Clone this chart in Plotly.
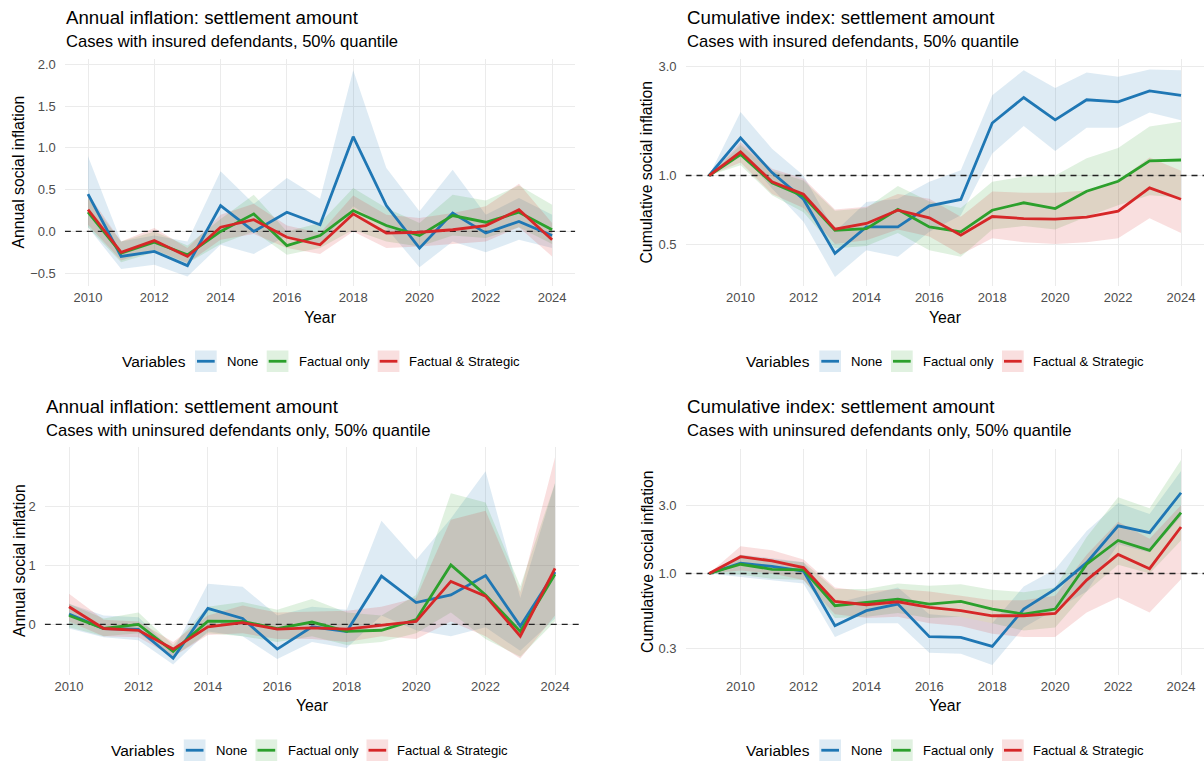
import plotly.graph_objects as go

W, H = 1204, 764

years_annual = list(range(2010, 2025))
years_cum = list(range(2009, 2025))
series_names = ["None", "Factual only", "Factual & Strategic"]
series_colors = ["#1F77B4", "#2CA02C", "#D62728"]
series_fills = ["rgba(31,119,180,0.15)", "rgba(44,160,44,0.15)", "rgba(214,39,40,0.15)"]

# ---- Top-left: annual, insured ----
tl_none = [0.446, -0.30, -0.24, -0.41, 0.31, 0.0, 0.23, 0.08, 1.135, 0.31, -0.20, 0.22, -0.02, 0.12, -0.05]
tl_none_lo = [0.05, -0.45, -0.40, -0.54, -0.16, -0.27, -0.05, -0.16, 0.30, 0.04, -0.43, -0.12, -0.25, -0.10, -0.20]
tl_none_hi = [0.90, -0.12, -0.05, -0.12, 0.72, 0.33, 0.64, 0.39, 1.93, 0.76, 0.24, 0.74, 0.20, 0.40, 0.20]
tl_fact = [0.23, -0.26, -0.13, -0.28, 0.0, 0.21, -0.17, -0.05, 0.25, 0.07, -0.05, 0.19, 0.11, 0.23, 0.02]
tl_fact_lo = [0.05, -0.37, -0.25, -0.38, -0.15, 0.0, -0.28, -0.20, 0.02, -0.12, -0.18, -0.05, -0.08, 0.05, -0.15]
tl_fact_hi = [0.40, -0.12, 0.0, -0.17, 0.15, 0.44, 0.0, 0.10, 0.52, 0.28, 0.10, 0.44, 0.37, 0.55, 0.32]
tl_strat = [0.26, -0.25, -0.11, -0.30, 0.05, 0.14, -0.07, -0.16, 0.21, -0.02, -0.01, 0.02, 0.07, 0.26, -0.10]
tl_strat_lo = [0.08, -0.35, -0.22, -0.38, -0.10, -0.03, -0.20, -0.27, 0.0, -0.20, -0.18, -0.15, -0.12, 0.05, -0.30]
tl_strat_hi = [0.45, -0.12, 0.04, -0.20, 0.20, 0.33, 0.07, -0.02, 0.43, 0.20, 0.16, 0.22, 0.30, 0.57, 0.10]

# ---- Top-right: cumulative, insured ----
tr_none = [1.0, 1.464, 1.03, 0.787, 0.455, 0.595, 0.595, 0.736, 0.785, 1.70, 2.20, 1.755, 2.15, 2.105, 2.35, 2.25]
tr_none_lo = [1.0, 1.27, 0.877, 0.626, 0.359, 0.47, 0.44, 0.566, 0.67, 1.25, 1.65, 1.28, 1.62, 1.62, 1.89, 1.75]
tr_none_hi = [1.0, 1.90, 1.31, 1.0, 0.566, 0.766, 0.79, 0.938, 1.055, 2.25, 2.90, 2.42, 2.83, 2.71, 2.92, 2.90]
tr_fact = [1.0, 1.236, 0.929, 0.811, 0.575, 0.585, 0.71, 0.595, 0.566, 0.704, 0.759, 0.716, 0.853, 0.944, 1.16, 1.17]
tr_fact_lo = [1.0, 1.11, 0.82, 0.69, 0.48, 0.49, 0.56, 0.47, 0.44, 0.58, 0.60, 0.58, 0.66, 0.74, 0.82, 0.80]
tr_fact_hi = [1.0, 1.36, 1.05, 0.95, 0.70, 0.72, 0.90, 0.77, 0.72, 0.94, 0.99, 1.0, 1.19, 1.32, 1.64, 1.72]
tr_strat = [1.0, 1.27, 0.938, 0.828, 0.581, 0.616, 0.704, 0.652, 0.547, 0.661, 0.647, 0.643, 0.656, 0.697, 0.883, 0.787]
tr_strat_lo = [1.0, 1.14, 0.83, 0.72, 0.50, 0.52, 0.58, 0.54, 0.45, 0.53, 0.51, 0.50, 0.51, 0.53, 0.65, 0.56]
tr_strat_hi = [1.0, 1.40, 1.07, 0.97, 0.71, 0.73, 0.83, 0.79, 0.66, 0.85, 0.84, 0.84, 0.86, 0.95, 1.20, 1.05]

# ---- Bottom-left: annual, uninsured ----
bl_none = [0.175, -0.07, -0.085, -0.575, 0.27, 0.10, -0.42, -0.04, -0.12, 0.82, 0.37, 0.50, 0.83, -0.03, 0.89]
bl_none_lo = [-0.07, -0.22, -0.27, -0.68, -0.12, -0.20, -0.59, -0.30, -0.40, 0.15, -0.10, -0.20, -0.05, -0.45, 0.10]
bl_none_hi = [0.35, 0.15, 0.12, -0.45, 0.69, 0.64, 0.15, 0.30, 0.25, 1.76, 1.10, 1.80, 2.60, 0.45, 2.40]
bl_fact = [0.15, -0.07, 0.0, -0.46, 0.056, 0.05, -0.07, 0.04, -0.12, -0.10, 0.08, 1.01, 0.50, -0.12, 0.85]
bl_fact_lo = [-0.05, -0.20, -0.15, -0.55, -0.15, -0.20, -0.30, -0.20, -0.35, -0.30, -0.15, 0.20, -0.25, -0.55, 0.05]
bl_fact_hi = [0.35, 0.10, 0.20, -0.35, 0.30, 0.38, 0.25, 0.43, 0.20, 0.15, 0.50, 2.23, 2.07, 0.65, 2.40]
bl_strat = [0.30, -0.07, -0.10, -0.42, -0.04, 0.03, -0.08, -0.06, -0.08, -0.01, 0.05, 0.73, 0.48, -0.20, 0.95]
bl_strat_lo = [0.05, -0.20, -0.22, -0.55, -0.18, -0.15, -0.25, -0.25, -0.30, -0.20, -0.25, 0.05, -0.20, -0.58, 0.15]
bl_strat_hi = [0.52, 0.08, 0.05, -0.30, 0.15, 0.32, 0.20, 0.22, 0.23, 0.30, 0.45, 1.78, 1.93, 0.55, 2.84]

# ---- Bottom-right: cumulative, uninsured ----
br_none = [1.0, 1.18, 1.12, 1.04, 0.432, 0.55, 0.612, 0.362, 0.358, 0.31, 0.565, 0.778, 1.19, 2.15, 1.93, 3.66]
br_none_lo = [1.0, 0.95, 0.90, 0.85, 0.36, 0.45, 0.45, 0.28, 0.275, 0.23, 0.42, 0.56, 0.75, 1.60, 1.40, 2.50]
br_none_hi = [1.0, 1.35, 1.28, 1.20, 0.62, 0.70, 0.80, 0.52, 0.50, 0.45, 0.81, 1.07, 1.98, 3.10, 2.60, 5.20]
br_fact = [1.0, 1.16, 1.07, 1.06, 0.596, 0.628, 0.663, 0.612, 0.638, 0.565, 0.521, 0.565, 1.16, 1.70, 1.45, 2.66]
br_fact_lo = [1.0, 0.98, 0.92, 0.90, 0.49, 0.50, 0.53, 0.49, 0.50, 0.45, 0.40, 0.42, 0.75, 1.15, 1.00, 1.70]
br_fact_hi = [1.0, 1.35, 1.25, 1.20, 0.78, 0.78, 0.85, 0.82, 0.84, 0.77, 0.74, 0.80, 1.80, 3.40, 2.85, 6.20]
br_strat = [1.0, 1.31, 1.225, 1.10, 0.638, 0.605, 0.635, 0.58, 0.55, 0.507, 0.507, 0.527, 0.90, 1.36, 1.08, 2.11]
br_strat_lo = [1.0, 1.05, 1.00, 0.90, 0.52, 0.49, 0.50, 0.45, 0.43, 0.38, 0.36, 0.36, 0.535, 0.68, 0.535, 0.913]
br_strat_hi = [1.0, 1.55, 1.45, 1.25, 0.80, 0.75, 0.78, 0.75, 0.70, 0.65, 0.65, 0.70, 1.35, 2.30, 1.75, 3.00]

titles = ["Annual inflation: settlement amount", "Cumulative index: settlement amount",
          "Annual inflation: settlement amount", "Cumulative index: settlement amount"]
subtitles = ["Cases with insured defendants, 50% quantile", "Cases with insured defendants, 50% quantile",
             "Cases with uninsured defendants only, 50% quantile", "Cases with uninsured defendants only, 50% quantile"]
ytitles = ["Annual social inflation", "Cumulative social inflation",
           "Annual social inflation", "Cumulative social inflation"]
xtitle = "Year"
legend_title = "Variables"
x_tickvals = [2010, 2012, 2014, 2016, 2018, 2020, 2022, 2024]
tl_ytickvals = [-0.5, 0.0, 0.5, 1.0, 1.5, 2.0]
tl_yticktext = ["\u22120.5", "0.0", "0.5", "1.0", "1.5", "2.0"]
tr_ytickvals = [0.5, 1.0, 3.0]
tr_yticktext = ["0.5", "1.0", "3.0"]
bl_ytickvals = [0, 1, 2]
bl_yticktext = ["0", "1", "2"]
br_ytickvals = [0.3, 1.0, 3.0]
br_yticktext = ["0.3", "1.0", "3.0"]

FONT = "Liberation Sans, Arial, Helvetica, sans-serif"


def px(x):
    return x / W


def py(y):
    return 1 - y / H


panels = [
    dict(box=(64.8, 575.3, 57, 285), xr=[2009.3, 2024.7], yr=[-0.657, 2.067], log=False,
         years=years_annual, data=[(tl_none, tl_none_lo, tl_none_hi), (tl_fact, tl_fact_lo, tl_fact_hi),
                                   (tl_strat, tl_strat_lo, tl_strat_hi)],
         ref=0.0, tv=tl_ytickvals, tt=tl_yticktext, legend=(119.7, 360.2)),
    dict(box=(685.5, 1204, 57, 285), xr=[2008.25, 2024.73], yr=[-0.486, 0.512], log=True,
         years=years_cum, data=[(tr_none, tr_none_lo, tr_none_hi), (tr_fact, tr_fact_lo, tr_fact_hi),
                                (tr_strat, tr_strat_lo, tr_strat_hi)],
         ref=1.0, tv=tr_ytickvals, tt=tr_yticktext, legend=(744, 360.2)),
    dict(box=(44.7, 579.3, 446, 675), xr=[2009.3, 2024.7], yr=[-0.864, 3.017], log=False,
         years=years_annual, data=[(bl_none, bl_none_lo, bl_none_hi), (bl_fact, bl_fact_lo, bl_fact_hi),
                                   (bl_strat, bl_strat_lo, bl_strat_hi)],
         ref=0.0, tv=bl_ytickvals, tt=bl_yticktext, legend=(108.5, 750.2)),
    dict(box=(685.5, 1204, 448, 675), xr=[2008.25, 2024.73], yr=[-0.710, 0.870], log=True,
         years=years_cum, data=[(br_none, br_none_lo, br_none_hi), (br_fact, br_fact_lo, br_fact_hi),
                                (br_strat, br_strat_lo, br_strat_hi)],
         ref=1.0, tv=br_ytickvals, tt=br_yticktext, legend=(744, 750.2)),
]

fig = go.Figure()
annotations = []
shapes = []

for i, p in enumerate(panels):
    n = "" if i == 0 else str(i + 1)
    xa, ya = "x" + n, "y" + n
    left, right, top, bottom = p["box"]
    yrs = p["years"]
    for (mid, lo, hi), fc in zip(p["data"], series_fills):
        fig.add_trace(go.Scatter(x=yrs + yrs[::-1], y=hi + lo[::-1], fill="toself", fillcolor=fc,
                                 line=dict(width=0), mode="lines", hoverinfo="skip",
                                 showlegend=False, xaxis=xa, yaxis=ya))
    fig.add_trace(go.Scatter(x=p["xr"], y=[p["ref"], p["ref"]], mode="lines",
                             line=dict(color="#222222", width=1.4, dash="6px,5px"),
                             hoverinfo="skip", showlegend=False, xaxis=xa, yaxis=ya))
    for (mid, lo, hi), col, name in zip(p["data"], series_colors, series_names):
        fig.add_trace(go.Scatter(x=yrs, y=mid, mode="lines", name=name,
                                 line=dict(color=col, width=2.8), showlegend=False,
                                 xaxis=xa, yaxis=ya))
    axis_common = dict(showgrid=True, gridcolor="#EBEBEB", gridwidth=1.1, zeroline=False,
                       showline=False, ticks="", tickfont=dict(family=FONT, size=13, color="#4D4D4D"))
    fig.layout["xaxis" + n] = dict(domain=[px(left), px(right)], range=p["xr"], tickvals=x_tickvals,
                                    anchor=ya, ticklabelstandoff=2, **axis_common)
    ydict = dict(domain=[py(bottom), py(top)], range=p["yr"], tickvals=p["tv"], ticktext=p["tt"],
                 anchor=xa, ticklabelstandoff=8, **axis_common)
    if p["log"]:
        ydict["type"] = "log"
    fig.layout["yaxis" + n] = ydict

    t_y = 15.2 if i < 2 else 405.2
    annotations.append(dict(x=px(left - 1), y=py(t_y), xref="paper", yref="paper", text=titles[i],
                            showarrow=False, xanchor="left", yanchor="middle",
                            font=dict(family=FONT, size=18.7, color="#000000")))
    sub_y = 39.3 if i < 2 else 429.8
    annotations.append(dict(x=px(left - 1), y=py(sub_y), xref="paper", yref="paper", text=subtitles[i],
                            showarrow=False, xanchor="left", yanchor="middle",
                            font=dict(family=FONT, size=16.6, color="#000000")))
    year_y = 316 if i < 2 else 705
    annotations.append(dict(x=px((left + right) / 2), y=py(year_y), xref="paper", yref="paper",
                            text=xtitle, showarrow=False, xanchor="center", yanchor="middle",
                            font=dict(family=FONT, size=15.8, color="#000000")))
    ytx = 19 if i % 2 == 0 else 647
    annotations.append(dict(x=px(ytx), y=py((top + bottom) / 2), xref="paper", yref="paper",
                            text=ytitles[i], textangle=-90, showarrow=False, xanchor="center",
                            yanchor="middle", font=dict(family=FONT, size=15.8, color="#000000")))
    lx, lc = p["legend"]
    annotations.append(dict(x=px(lx), y=py(lc), xref="paper", yref="paper", text=legend_title,
                            showarrow=False, xanchor="left", yanchor="middle",
                            font=dict(family=FONT, size=15.5, color="#000000")))
    key_offsets = [75.3, 147.0, 258.0]
    text_offsets = [105.3, 177.0, 287.0]
    for ko, to, col, fc, name in zip(key_offsets, text_offsets, series_colors, series_fills, series_names):
        kx = lx + ko
        shapes.append(dict(type="rect", xref="paper", yref="paper", x0=px(kx), x1=px(kx + 21.7),
                           y0=py(lc + 10.8), y1=py(lc - 10.8), fillcolor=fc, line=dict(width=0)))
        shapes.append(dict(type="line", xref="paper", yref="paper", x0=px(kx + 2), x1=px(kx + 19.7),
                           y0=py(lc), y1=py(lc), line=dict(color=col, width=2.8)))
        annotations.append(dict(x=px(lx + to), y=py(lc), xref="paper", yref="paper", text=name,
                                showarrow=False, xanchor="left", yanchor="middle",
                                font=dict(family=FONT, size=13.1, color="#000000")))

fig.update_layout(width=W, height=H, margin=dict(l=0, r=0, t=0, b=0, pad=0),
                  paper_bgcolor="white", plot_bgcolor="white", showlegend=False,
                  annotations=annotations, shapes=shapes, font=dict(family=FONT))

fig.write_html("out.html", config={"displayModeBar": False},
               post_script="document.body.style.margin='0';document.body.style.padding='0';")
